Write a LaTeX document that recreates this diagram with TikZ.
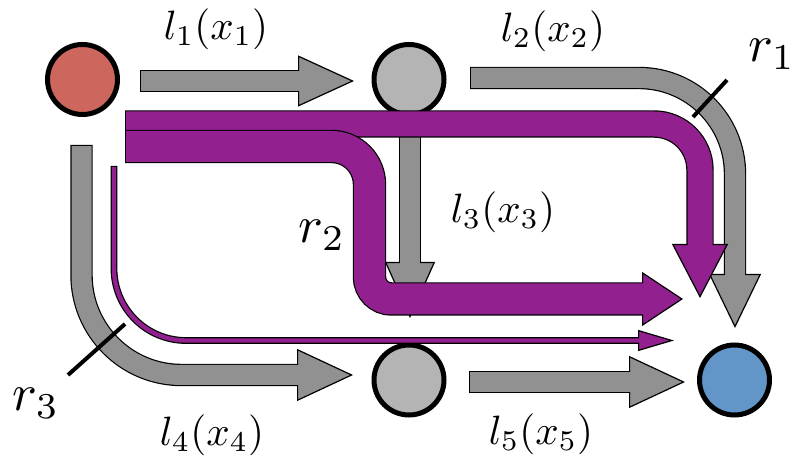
\documentclass[tikz,border=0pt]{standalone}
\usetikzlibrary{arrows.meta}
\definecolor{nred}{RGB}{205,103,93}
\definecolor{ngray}{RGB}{180,180,180}
\definecolor{nblue}{RGB}{98,150,201}
\definecolor{lgray}{RGB}{145,145,145}
\definecolor{rpurp}{RGB}{146,32,142}

% outlined fat arrow: colour, shaft width, head width, head length, path
\newcommand{\fatarrow}[5]{%
  \draw[black, line width=#2+1.2pt, -{Triangle[length=#4, width=#3, fill=#1, line width=0.6pt]}] #5;
  \draw[#1, line width=#2, shorten <=0.6pt, shorten >=#4-1pt] #5;
}

\begin{document}
\begin{tikzpicture}[x=0.5pt, y=-0.5pt,
    city/.style={draw, circle, line width=2.5pt, minimum size=35pt, inner sep=0pt},
    lab/.style={inner sep=0pt, scale=2.05},
    rlab/.style={inner sep=0pt, scale=2.6},
    cut/.style={line width=2pt}]
    \useasboundingbox (0,0) rectangle (798,459);

    % network nodes
    \node[city, fill=nred] (orig) at (82.5,79.5) {};
    \node[city, fill=ngray] (up) at (409,79.5) {};
    \node[city, fill=ngray] (low) at (409,380) {};
    \node[city, fill=nblue] (dest) at (734.5,380) {};

    % link ends
    \coordinate (l1s) at (140,81);    \coordinate (l1e) at (354,81);
    \coordinate (l2s) at (470,78);    \coordinate (l2e) at (735,328);
    \coordinate (l3s) at (410,118);   \coordinate (l3e) at (410,318);
    \coordinate (l4s) at (81.5,145);  \coordinate (l4e) at (353,375);
    \coordinate (l5s) at (469,382);   \coordinate (l5e) at (685,382);

    % route ends
    \coordinate (r1s) at (125,124);   \coordinate (r1e) at (700,298);
    \coordinate (r2s) at (125,146.5); \coordinate (r2e) at (683,299);
    \coordinate (r2c) at (369.5,220);
    \coordinate (r3s) at (114,166);   \coordinate (r3e) at (674,340.5);

    % links
    \fatarrow{lgray}{10pt}{25.5pt}{28pt}{(l1s) -- (l1e)}
    \fatarrow{lgray}{10pt}{26pt}{28pt}{(l5s) -- (l5e)}
    \fatarrow{lgray}{10pt}{26pt}{28pt}{[rounded corners=50pt] (l4s) -- (l4s |- l4e) -- (l4e)}
    \fatarrow{lgray}{10pt}{25pt}{28pt}{(l3s) -- (l3e)}
    \fatarrow{lgray}{10pt}{26pt}{27pt}{[rounded corners=48pt] (l2s) -- (l2s -| l2e) -- (l2e)}

    % routes
    \fatarrow{rpurp}{12.5pt}{28pt}{27pt}{[rounded corners=23pt] (r1s) -- (r1s -| r1e) -- (r1e)}
    \fatarrow{rpurp}{15.5pt}{27pt}{20.5pt}{[rounded corners=19pt] (r2s) -- (r2s -| r2c) [rounded corners=11pt] -- (r2c |- r2e) -- (r2e)}
    \fatarrow{rpurp}{2.2pt}{10.5pt}{18pt}{[rounded corners=36pt] (r3s) -- (r3s |- r3e) -- (r3e)}

    % route marks
    \draw[cut] (693,117) -- (727,80);
    \draw[cut] (68,375) -- (125,324);

    % labels
    \node[lab] (lab1) at (216,29) {$l_1(x_1)$};
    \node[lab] (lab2) at (553,31) {$l_2(x_2)$};
    \node[lab] (lab3) at (503,212) {$l_3(x_3)$};
    \node[lab] (lab4) at (212,435) {$l_4(x_4)$};
    \node[lab] (lab5) at (541,434) {$l_5(x_5)$};
    \node[rlab] (rlab1) at (772,54) {$r_1$};
    \node[rlab] (rlab2) at (322,235) {$r_2$};
    \node[rlab] (rlab3) at (36,403) {$r_3$};
\end{tikzpicture}
\end{document}
